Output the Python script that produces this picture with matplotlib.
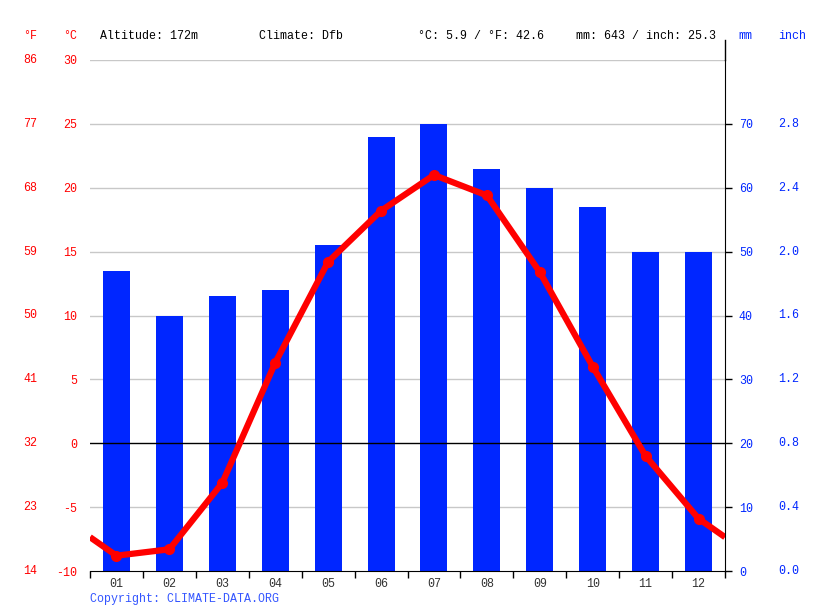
import numpy as np
import matplotlib
matplotlib.use('Agg')
from matplotlib import pyplot as plt
from matplotlib import transforms

plt.rcParams['font.family'] = ['Liberation Mono', 'DejaVu Sans Mono']
plt.rcParams['font.size'] = 8.4

# Data
months = ['01', '02', '03', '04', '05', '06', '07', '08', '09', '10', '11', '12']
precip_mm = [47, 40, 43, 44, 51, 68, 70, 63, 60, 57, 50, 50]
temp_c = [-8.8, -8.3, -3.1, 6.3, 14.2, 18.2, 21.0, 19.4, 13.4, 6.0, -1.0, -5.9]
c_ticks = [-10, -5, 0, 5, 10, 15, 20, 25, 30]
mm_ticks = [0, 10, 20, 30, 40, 50, 60, 70]

red = '#ff0000'
blue = '#0026ff'
W, H = 815, 611

fig = plt.figure(figsize=(W / 100, H / 100), dpi=100)
ax = fig.add_axes([90 / W, (H - 571) / H, (725 - 90) / W, (571 - 60) / H])
x = np.arange(len(months))

# precipitation bars (mm scale)
ax.bar(x, precip_mm, width=0.51, color=blue, zorder=2)
ax.set_ylim(0, 80)
ax.set_xlim(-0.5, len(months) - 0.5)

# temperature axis (°C scale)
axt = ax.twinx()
axt.set_ylim(-10, 30)
axt.set_xlim(-0.5, len(months) - 0.5)

ax.yaxis.tick_right()
ax.set_yticks(mm_ticks)
ax.set_yticklabels([str(v) for v in mm_ticks], color=blue)
ax.tick_params(axis='y', which='both', left=False, labelleft=False, right=True,
               labelright=True, direction='out', length=5, width=1, pad=5)
for lab in ax.get_yticklabels():
    lab.set_horizontalalignment('left')

ax.set_xticks(x)
ax.set_xticklabels(months, color='#333333')
ax.set_xticks(np.arange(-0.5, len(months)), minor=True)
ax.tick_params(axis='x', which='major', length=0, pad=5)
ax.tick_params(axis='x', which='minor', length=5, width=1, direction='out')

for s in ['top', 'left']:
    ax.spines[s].set_visible(False)
ax.spines['right'].set_color('black')
ax.spines['bottom'].set_color('black')

for s in axt.spines.values():
    s.set_visible(False)
for c in c_ticks:
    if c == 0:
        axt.axhline(c, color='black', lw=1, zorder=1)
    elif c != -10:
        ax.axhline((c + 10) * 2, color='#c8c8c8', lw=1, zorder=1)
axt.set_yticks(c_ticks)
axt.set_yticklabels([str(c) for c in c_ticks], color=red)
axt.tick_params(axis='y', left=False, labelleft=True, right=False,
                labelright=False, length=0, pad=9.4)

# wrap the line to the plot edges (average of Dec and Jan)
edge = (temp_c[0] + temp_c[-1]) / 2
xl = np.concatenate([[-0.5], x, [len(months) - 0.5]])
yl = np.concatenate([[edge], temp_c, [edge]])
axt.plot(xl, yl, color=red, lw=4.5, solid_capstyle='butt', zorder=3)
axt.plot(x, temp_c, 'o', color=red, ms=7, zorder=4)

# °F labels at left and inch labels at right
tl = transforms.blended_transform_factory(fig.transFigure, axt.transData)
for c in c_ticks:
    f = round(c * 9 / 5 + 32)
    axt.text(37 / W, c, str(f), transform=tl, color=red, ha='right', va='center')
tr = transforms.blended_transform_factory(fig.transFigure, ax.transData)
for m in mm_ticks:
    ax.text(778 / W, m, f"{m / 25:.1f}", transform=tr, color=blue, ha='left', va='center')

# extend right spine above the plot
ax.plot([1, 1], [1, 1 + 20 / 511], transform=ax.transAxes, color='black', lw=1, clip_on=False)

# header
hy = 1 - 36 / H
fig.text(30 / W, hy, '°F', color=red, ha='center', va='center')
fig.text(70 / W, hy, '°C', color=red, ha='center', va='center')
fig.text(100 / W, hy, 'Altitude: 172m', color='black', va='center')
fig.text(259 / W, hy, 'Climate: Dfb', color='black', va='center')
fig.text(418 / W, hy, '°C: 5.9 / °F: 42.6', color='black', va='center')
fig.text(576 / W, hy, 'mm: 643 / inch: 25.3', color='black', va='center')
fig.text(745 / W, hy, 'mm', color=blue, ha='center', va='center')
fig.text(792 / W, hy, 'inch', color=blue, ha='center', va='center')
fig.text(90 / W, 1 - 599 / H, 'Copyright: CLIMATE-DATA.ORG', color='#3355ff', va='center')

plt.savefig('out.png', dpi=100)
